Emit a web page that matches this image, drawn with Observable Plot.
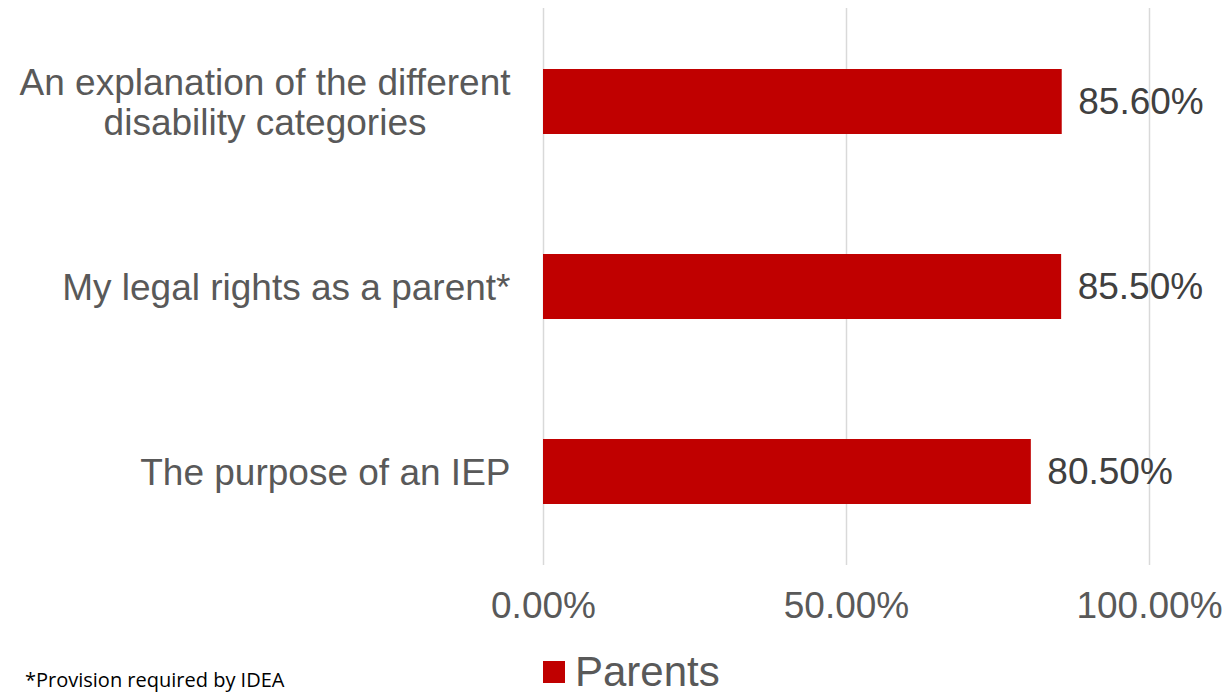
<!DOCTYPE html>
<html>
<head>
<meta charset="utf-8">
<script src="https://cdn.jsdelivr.net/npm/d3@7"></script>
<script src="https://cdn.jsdelivr.net/npm/@observablehq/plot@0.6"></script>
<style>
  body { margin: 0; background: #fff; overflow: hidden; }
  #wrap { position: relative; width: 1227px; height: 695px; overflow: hidden; font-family: "Liberation Sans", Arial, sans-serif; }
  #chart { position: absolute; left: 0; top: 0; }
  #legend { position: absolute; left: 543px; top: 648px; }
  #note { position: absolute; left: 25px; top: 668px; font-family: "Open Sans", "Liberation Sans", sans-serif; font-size: 20px; line-height: 24px; color: #000; white-space: nowrap; }
</style>
</head>
<body>
<div id="wrap">
  <div id="chart"></div>
  <div id="legend"></div>
  <div id="note">*Provision required by IDEA</div>
</div>
<script>
const categories = [
  "An explanation of the different\ndisability categories",
  "My legal rights as a parent*",
  "The purpose of an IEP"
];
const values = [0.856, 0.855, 0.805];
const valueLabels = ["85.60%", "85.50%", "80.50%"];
const xTicks = [0, 0.5, 1];
const seriesName = "Parents";
const barColor = "#C00000";

const data = categories.map((c, i) => ({category: c, value: values[i], label: valueLabels[i]}));

const chart = Plot.plot({
  width: 1227,
  height: 645,
  marginLeft: 543,
  marginRight: 78,
  marginTop: 8,
  marginBottom: 80,
  style: {fontFamily: "'Liberation Sans', Arial, sans-serif", background: "#fff"},
  x: {domain: [0, 1]},
  y: {domain: categories, paddingInner: 0.65, paddingOuter: 0.33},
  marks: [
    Plot.gridX(xTicks, {stroke: "#d9d9d9", strokeOpacity: 1, strokeWidth: 1.5}),
    Plot.barX(data, {x: "value", y: "category", fill: barColor}),
    Plot.text(data, {x: "value", y: "category", text: "label", textAnchor: "start", dx: 16, fill: "#404040", fontSize: 37}),
    Plot.axisX({ticks: xTicks, tickSize: 0, tickPadding: 26, tickFormat: d => (d * 100).toFixed(2) + "%", fontSize: 37, color: "#595959", label: null}),
    Plot.axisY({tickSize: 0, tickPadding: 33, fontSize: 37, color: "#595959", label: null, lineHeight: 1.08})
  ]
});
document.getElementById("chart").appendChild(chart);

// center the lines of multi-line category labels within their right-aligned block
chart.querySelectorAll("g[aria-label='y-axis tick label'] text").forEach(t => {
  const spans = t.querySelectorAll("tspan");
  if (spans.length > 1) {
    let w = 0;
    spans.forEach(s => { w = Math.max(w, s.getComputedTextLength()); });
    t.setAttribute("text-anchor", "middle");
    spans.forEach(s => s.setAttribute("x", -w / 2));
  }
});

const legend = Plot.legend({
  color: {domain: [seriesName], range: [barColor]},
  swatchSize: 22,
  style: {fontFamily: "'Liberation Sans', Arial, sans-serif", fontSize: "42px", color: "#595959", margin: 0}
});
document.getElementById("legend").appendChild(legend);
legend.querySelectorAll("svg").forEach(s => { s.style.marginRight = "10px"; });
</script>
</body>
</html>
